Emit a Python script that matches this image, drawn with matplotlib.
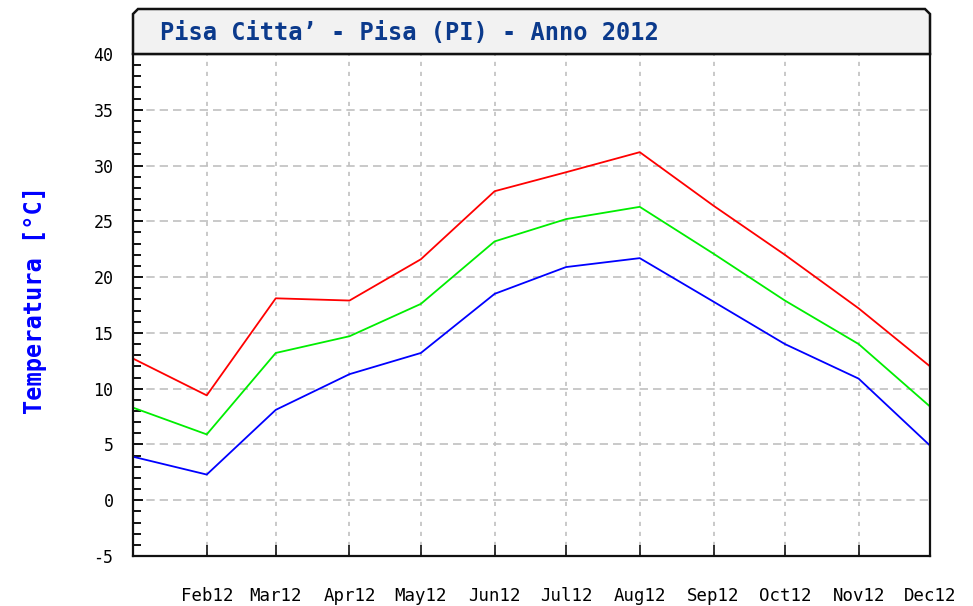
import datetime as dt
import matplotlib
matplotlib.use("Agg")
import matplotlib.pyplot as plt
from matplotlib.patches import Polygon
from matplotlib.ticker import MultipleLocator

plt.rcParams["axes.unicode_minus"] = False

# Pisa Citta' 2012: monthly temperatures (max / mean / min), first of month
mesi = [dt.date(2012, m, 1) for m in range(1, 13)]
etichette = ["Feb12", "Mar12", "Apr12", "May12", "Jun12", "Jul12",
             "Aug12", "Sep12", "Oct12", "Nov12", "Dec12"]
t_max = [12.7, 9.4, 18.1, 17.9, 21.6, 27.7, 29.4, 31.2, 26.4, 22.0, 17.2, 12.0]
t_med = [8.3, 5.9, 13.2, 14.7, 17.6, 23.2, 25.2, 26.3, 22.1, 17.9, 14.0, 8.4]
t_min = [3.9, 2.3, 8.1, 11.3, 13.2, 18.5, 20.9, 21.7, 17.8, 14.0, 10.9, 4.9]

W, H = 973, 606
fig = plt.figure(figsize=(W / 100, H / 100), dpi=100)
fig.patch.set_facecolor("white")

x0, x1 = 133 / W, 930 / W
y_bot, y_top = 1 - 556 / H, 1 - 54 / H
ax = fig.add_axes([x0, y_bot, x1 - x0, y_top - y_bot])

# title box with cut corners
cx, cy = 5 / W, 5 / H
tb = 1 - 9 / H
box = Polygon([(x0, y_top), (x0, tb - cy), (x0 + cx, tb), (x1 - cx, tb),
               (x1, tb - cy), (x1, y_top)], closed=True,
              transform=fig.transFigure, facecolor="#f2f2f2",
              edgecolor="#111111", linewidth=1.8)
fig.add_artist(box)
fig.text(160 / W, 1 - 33 / H, "Pisa Citta\u2019 - Pisa (PI) - Anno 2012",
         fontfamily="DejaVu Sans Mono", fontweight="bold", fontsize=17,
         color="#0b3a8c", va="center", ha="left")

ax.plot(mesi, t_max, color="#ff0000", lw=1.3)
ax.plot(mesi, t_med, color="#00ee00", lw=1.3)
ax.plot(mesi, t_min, color="#0000ff", lw=1.3)

ax.set_xlim(mesi[0], mesi[-1])
ax.set_ylim(-5, 40)

ax.set_xticks(mesi[1:])
ax.set_xticklabels(etichette, fontfamily="DejaVu Sans Mono", fontsize=12.5)
ax.yaxis.set_major_locator(MultipleLocator(5))
ax.yaxis.set_minor_locator(MultipleLocator(1))
for lab in ax.get_yticklabels():
    lab.set_fontfamily("DejaVu Sans Mono")
    lab.set_fontsize(12)

ax.tick_params(axis="x", direction="in", length=8, width=1.2, pad=22, colors="#111111")
ax.tick_params(axis="y", which="major", direction="in", length=7, width=1.4, pad=14, colors="#111111")
ax.tick_params(axis="y", which="minor", direction="in", length=6, width=1.3)
for lab in ax.get_xticklabels() + ax.get_yticklabels():
    lab.set_color("black")

# grid: long dashes horizontal, short dashes vertical
ax.grid(axis="y", color="#c0c0c0", linestyle=(0, (5, 3)), linewidth=1.2)
ax.grid(axis="x", color="#c0c0c0", linestyle=(0, (2.5, 3.5)), linewidth=1.2)
ax.set_axisbelow(True)

for s in ax.spines.values():
    s.set_linewidth(1.6)
    s.set_color("#111111")

fig.text(35 / W, 1 - 300 / H, "Temperatura [\u00b0C]", rotation=90,
         fontfamily="DejaVu Sans Mono", fontweight="bold", fontsize=17,
         color="#0000ff", ha="center", va="center")

fig.savefig("out.png", dpi=100)
